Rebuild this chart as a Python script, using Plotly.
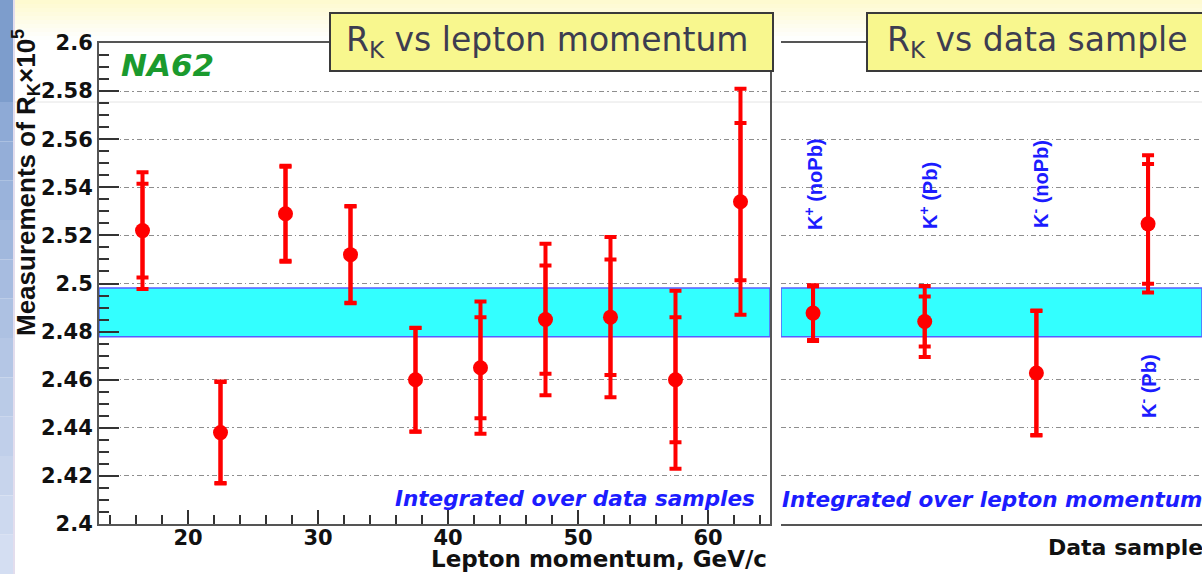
import plotly.graph_objects as go

# ---- data -------------------------------------------------------------
# R_K (x10^5) in bins of lepton momentum, integrated over data samples
momentum_bins = [16.5, 22.5, 27.5, 32.5, 37.5, 42.5, 47.5, 52.5, 57.5, 62.5]
rk_momentum = [2.522, 2.438, 2.529, 2.512, 2.460, 2.465, 2.485, 2.486, 2.460, 2.534]
stat_momentum = [0.0195, 0.0210, 0.0195, 0.0200, 0.0215, 0.0210, 0.0225, 0.0240, 0.0260, 0.0327]
total_momentum = [0.0243, 0.0212, 0.0200, 0.0202, 0.0216, 0.0275, 0.0315, 0.0333, 0.0370, 0.0470]

# R_K (x10^5) per data sample, integrated over lepton momentum
sample_index = [1, 2, 3, 4]
sample_labels = ["K<sup>+</sup> (noPb)", "K<sup>+</sup> (Pb)", "K<sup>-</sup> (noPb)", "K<sup>-</sup> (Pb)"]
rk_sample = [2.4877, 2.4842, 2.4628, 2.5248]
stat_sample = [0.0112, 0.0104, 0.0258, 0.0249]
total_sample = [0.0116, 0.0148, 0.0260, 0.0285]

# combined result band (lower, upper)
band_limits = [2.4779, 2.4981]

# axis ranges and ticks
p_range = [13.154, 64.77]
sample_range = [0.713, 4.483]
rk_range = [2.4, 2.6]
rk_ticks = [2.40, 2.42, 2.44, 2.46, 2.48, 2.50, 2.52, 2.54, 2.56, 2.58, 2.60]
rk_tick_text = ["2.4", "2.42", "2.44", "2.46", "2.48", "2.5", "2.52", "2.54", "2.56", "2.58", "2.6"]
p_ticks = [20, 30, 40, 50, 60]
p_tick_text = ["20", "30", "40", "50", "60"]

# ---- geometry helpers (canvas pixels -> paper fractions) --------------
W, H = 1202, 574


def px(x):
    return x / W


def py(y):
    return 1 - y / H


RED = "#ff0000"
BLUE_TXT = "#1c1cff"
GRID = dict(showgrid=True, gridcolor="#8e8e8e", gridwidth=1, griddash="5px,3px,1.5px,3px")
TICK_FONT = dict(family="DejaVu Sans", size=21, color="#111111", weight="bold")

fig = go.Figure()

# combined result band, drawn as filled traces so it sits over the grid
for xa, ya, xr in (("x", "y", p_range), ("x2", "y2", sample_range)):
    fig.add_trace(go.Scatter(
        x=[xr[0], xr[1], xr[1], xr[0], xr[0]],
        y=[band_limits[0], band_limits[0], band_limits[1], band_limits[1], band_limits[0]],
        mode="lines", fill="toself", fillcolor="#33ffff",
        line=dict(color="#5a5cff", width=1.5),
        xaxis=xa, yaxis=ya, showlegend=False, hoverinfo="skip"))

# statistical error bars (inner caps), then total error bars with markers on top
fig.add_trace(go.Scatter(
    x=momentum_bins, y=rk_momentum, mode="markers",
    marker=dict(size=1, color=RED),
    error_y=dict(type="data", array=stat_momentum, color=RED, thickness=4, width=6),
    xaxis="x", yaxis="y", showlegend=False, hoverinfo="skip"))
fig.add_trace(go.Scatter(
    x=momentum_bins, y=rk_momentum, mode="markers",
    marker=dict(size=15, color=RED),
    error_y=dict(type="data", array=total_momentum, color=RED, thickness=4, width=6),
    xaxis="x", yaxis="y", showlegend=False, hoverinfo="skip"))

fig.add_trace(go.Scatter(
    x=sample_index, y=rk_sample, mode="markers",
    marker=dict(size=1, color=RED),
    error_y=dict(type="data", array=stat_sample, color=RED, thickness=4, width=6),
    xaxis="x2", yaxis="y2", showlegend=False, hoverinfo="skip"))
fig.add_trace(go.Scatter(
    x=sample_index, y=rk_sample, mode="markers",
    marker=dict(size=15, color=RED),
    error_y=dict(type="data", array=total_sample, color=RED, thickness=4, width=6),
    xaxis="x2", yaxis="y2", showlegend=False, hoverinfo="skip"))

shapes = []

# slide background: pale yellow header fading to white
n_fade = 10
for i in range(n_fade):
    t = i / (n_fade - 1)
    r, g, b = 254, int(250 + 5 * t), int(208 + 45 * t)
    shapes.append(dict(type="rect", xref="paper", yref="paper",
                       x0=0, x1=1, y0=py(4 * (i + 1)), y1=py(4 * i),
                       fillcolor=f"rgb({r},{g},{b})", line=dict(width=0), layer="below"))

# slide background: blue strip on the left edge
shapes.append(dict(type="rect", xref="paper", yref="paper", x0=0, x1=px(13),
                   y0=py(102), y1=1, fillcolor="#7d9dcc", line=dict(width=0), layer="below"))
n_strip = 12
for i in range(n_strip):
    t = i / (n_strip - 1)
    r, g, b = int(142 + 70 * t), int(170 + 52 * t), int(214 + 28 * t)
    y_top = 102 + (H - 102) * i / n_strip
    y_bot = 102 + (H - 102) * (i + 1) / n_strip
    shapes.append(dict(type="rect", xref="paper", yref="paper", x0=0, x1=px(13),
                       y0=py(y_bot), y1=py(y_top), fillcolor=f"rgb({r},{g},{b})",
                       line=dict(width=0), layer="below"))
shapes.append(dict(type="rect", xref="paper", yref="paper", x0=px(13), x1=px(15),
                   y0=0, y1=1, fillcolor="#e3dded", line=dict(width=0), layer="below"))
# faint horizontal rule across the slide
shapes.append(dict(type="line", xref="paper", yref="paper", x0=px(15), x1=1,
                   y0=py(102), y1=py(102), line=dict(color="#e4e4e4", width=1), layer="below"))

# title boxes
for x0, x1 in ((330, 773), (867, 1230)):
    shapes.append(dict(type="rect", xref="paper", yref="paper",
                       x0=px(x0), x1=px(x1), y0=py(71), y1=py(13),
                       fillcolor="#f8f78e", line=dict(color="#3a3a3a", width=2),
                       layer="above"))

annotations = [
    dict(text="R<sub>K</sub> vs lepton momentum", x=px(547), y=py(42),
         font=dict(family="DejaVu Sans", size=33, color="#3d3d50")),
    dict(text="R<sub>K</sub> vs data sample", x=px(1037), y=py(42),
         font=dict(family="DejaVu Sans", size=33, color="#3d3d50")),
    dict(text="NA62", x=px(119), y=py(65), xanchor="left",
         font=dict(family="DejaVu Sans", size=31, color="#1b9a2e", weight="bold", style="italic")),
    dict(text="Integrated over data samples", x=px(757), y=py(498), xanchor="right",
         font=dict(family="DejaVu Sans", size=21.5, color=BLUE_TXT, weight="bold", style="italic")),
    dict(text="Integrated over lepton momentum", x=px(780), y=py(499), xanchor="left",
         font=dict(family="DejaVu Sans", size=21.5, color=BLUE_TXT, weight="bold", style="italic")),
    dict(text="Lepton momentum, GeV/c", x=px(769), y=py(559), xanchor="right",
         font=dict(family="DejaVu Sans", size=23, color="#111111", weight="bold")),
    dict(text="Data sample", x=px(1046), y=py(547), xanchor="left",
         font=dict(family="DejaVu Sans", size=22, color="#111111", weight="bold")),
    dict(text="Measurements of R<sub>K</sub>\u00d710<sup>5</sup>", x=px(26), y=py(183),
         textangle=-90,
         font=dict(family="Liberation Sans", size=26, color="#111111", weight="bold")),
]

# rotated sample labels, placed above or below each point
label_pos = [(813, 184), (928, 196), (1039, 184), (1147, 386)]
for lab, (lx, ly) in zip(sample_labels, label_pos):
    annotations.append(dict(text=lab, x=px(lx), y=py(ly), textangle=-90,
                            font=dict(family="Liberation Sans", size=20, color=BLUE_TXT,
                                      weight="bold")))

for a in annotations:
    a.setdefault("xref", "paper")
    a.setdefault("yref", "paper")
    a.setdefault("showarrow", False)
    a.setdefault("xanchor", "center")
    a.setdefault("yanchor", "middle")

fig.update_layout(
    width=W, height=H,
    margin=dict(l=0, r=0, t=0, b=0),
    paper_bgcolor="white",
    plot_bgcolor="rgba(0,0,0,0)",
    showlegend=False,
    shapes=shapes,
    annotations=annotations,
    xaxis=dict(
        domain=[px(99), px(770)], range=p_range, anchor="y", automargin=False,
        tickvals=p_ticks, ticktext=p_tick_text, tickfont=TICK_FONT,
        ticks="inside", ticklen=14, tickwidth=2, tickcolor="#333333",
        ticklabelstandoff=-6,
        minor=dict(dtick=2, ticks="inside", ticklen=9, tickwidth=1.5, tickcolor="#333333"),
        showline=True, linecolor="#555555", linewidth=2, mirror=True,
        showgrid=False, zeroline=False,
    ),
    yaxis=dict(
        domain=[py(524), py(43)], range=rk_range, anchor="x", automargin=False,
        tickvals=rk_ticks, ticktext=rk_tick_text, tickfont=TICK_FONT,
        ticks="inside", ticklen=20, tickwidth=2, tickcolor="#333333",
        minor=dict(dtick=0.005, ticks="inside", ticklen=10, tickwidth=1.5, tickcolor="#333333"),
        showline=True, linecolor="#555555", linewidth=2, mirror=True,
        zeroline=False, **GRID,
    ),
    xaxis2=dict(
        domain=[px(781), 1.0], range=sample_range, anchor="y2", automargin=False,
        showticklabels=False, ticks="",
        showline=True, linecolor="#555555", linewidth=2, mirror=True,
        showgrid=False, zeroline=False,
    ),
    yaxis2=dict(
        domain=[py(524), py(43)], range=rk_range, anchor="x2", automargin=False,
        tickvals=rk_ticks, showticklabels=False, ticks="",
        showline=False, zeroline=False, **GRID,
    ),
)

fig.write_html("out.html")
